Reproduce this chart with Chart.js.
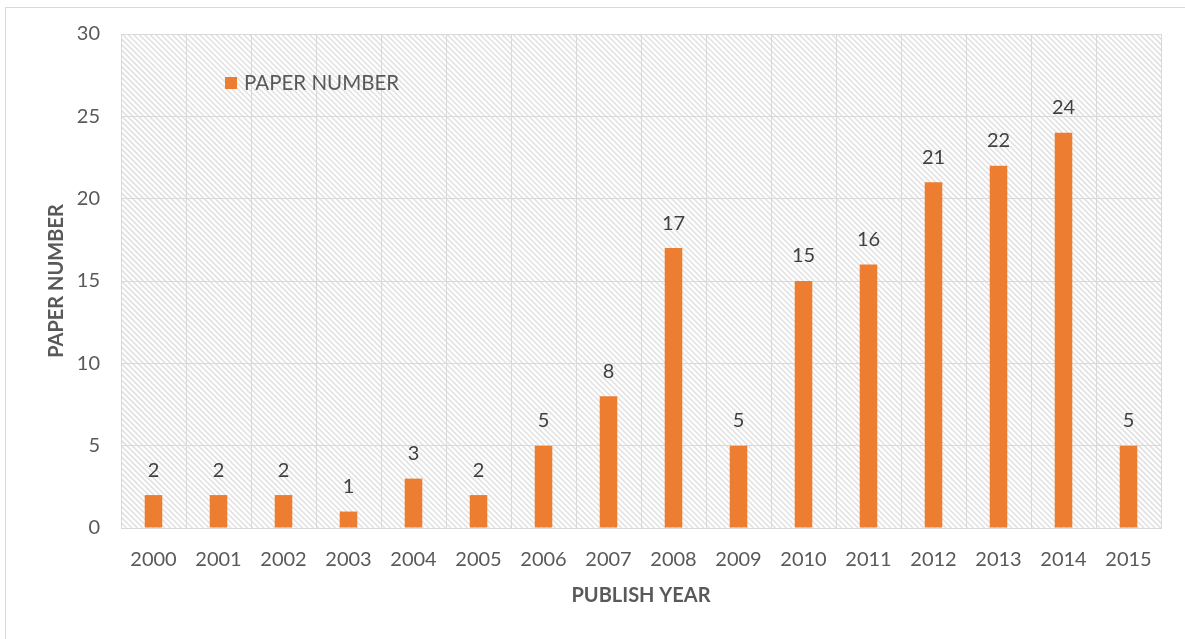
<!DOCTYPE html>
<html>
<head>
<meta charset="utf-8">
<script src="https://cdn.jsdelivr.net/npm/chart.js@4.4.0/dist/chart.umd.min.js"></script>
<style>
  html, body { margin: 0; padding: 0; background: #ffffff; overflow: hidden; }
  #frame { position: absolute; left: 5px; top: 7px; width: 1400px; height: 800px; border: 1px solid #d9d9d9; box-sizing: border-box; }
  #wrap { position: absolute; left: 0; top: 0; width: 1185px; height: 639px; }
</style>
</head>
<body>
<div id="frame"></div>
<div id="wrap"><canvas id="c" width="1185" height="639"></canvas></div>
<script>
const years = ['2000','2001','2002','2003','2004','2005','2006','2007','2008','2009','2010','2011','2012','2013','2014','2015'];
const paperNumbers = [2, 2, 2, 1, 3, 2, 5, 8, 17, 5, 15, 16, 21, 22, 24, 5];
const seriesLabel = 'PAPER NUMBER';
const xTitle = 'PUBLISH YEAR';
const yTitle = 'PAPER NUMBER';
const yMin = 0, yMax = 30, yStep = 5;

const FONT = 'Lato, "Open Sans", "DejaVu Sans", sans-serif';
const BAR = '#ED7D31';
const TXT = '#595959';
const GRID = '#d9d9d9';

const hatchPlugin = {
  id: 'hatch',
  beforeDraw(chart) {
    const { ctx, chartArea: a } = chart;
    ctx.save();
    ctx.beginPath();
    ctx.rect(a.left, a.top, a.right - a.left, a.bottom - a.top);
    ctx.clip();
    ctx.fillStyle = '#ffffff';
    ctx.fillRect(a.left, a.top, a.right - a.left, a.bottom - a.top);
    ctx.strokeStyle = '#e2e2e2';
    ctx.lineWidth = 1.6;
    const h = a.bottom - a.top;
    const step = 5.5;
    for (let x = a.left - h; x < a.right + 10; x += step) {
      ctx.beginPath();
      ctx.moveTo(x, a.top);
      ctx.lineTo(x + h, a.bottom);
      ctx.stroke();
    }
    ctx.restore();
  }
};

const labelPlugin = {
  id: 'barLabels',
  afterDatasetsDraw(chart) {
    const { ctx, chartArea: a } = chart;
    const meta = chart.getDatasetMeta(0);
    const data = chart.data.datasets[0].data;
    ctx.save();
    ctx.font = '20px ' + FONT;
    ctx.fillStyle = '#404040';
    ctx.textAlign = 'center';
    ctx.textBaseline = 'middle';
    meta.data.forEach((bar, i) => {
      ctx.fillText(String(data[i]), bar.x, bar.y - 25);
    });
    // legend inside plot
    const ds = chart.data.datasets[0];
    const lx = a.left + 104, ly = a.top + 49;
    ctx.fillStyle = ds.backgroundColor;
    ctx.fillRect(lx, ly - 6, 12, 12);
    ctx.fillStyle = TXT;
    ctx.textAlign = 'left';
    ctx.font = '20.5px ' + FONT;
    ctx.fillText(ds.label, lx + 19, ly);
    ctx.restore();
  }
};

new Chart(document.getElementById('c'), {
  type: 'bar',
  data: {
    labels: years,
    datasets: [{
      label: seriesLabel,
      data: paperNumbers,
      backgroundColor: BAR,
      borderWidth: 0,
      barPercentage: 0.27,
      categoryPercentage: 1.0
    }]
  },
  options: {
    responsive: false,
    animation: false,
    devicePixelRatio: 1,
    layout: { padding: { top: 34, right: 24, left: 0, bottom: 0 } },
    plugins: {
      legend: { display: false },
      tooltip: { enabled: false }
    },
    scales: {
      x: {
        afterFit(scale) { scale.height = 111; },
        grid: { color: GRID, lineWidth: 1, drawTicks: false, offset: true },
        border: { display: true, color: GRID, width: 1 },
        ticks: { color: TXT, font: { family: FONT, size: 20 }, padding: 20, maxRotation: 0, autoSkip: false },
        title: { display: true, text: xTitle, color: TXT, font: { family: FONT, size: 20, weight: 'bold' }, padding: { top: 0, bottom: 31 } }
      },
      y: {
        min: yMin, max: yMax,
        afterFit(scale) { scale.width = 121; },
        grid: { color: GRID, lineWidth: 1, drawTicks: false },
        border: { display: true, color: GRID, width: 1 },
        ticks: { stepSize: yStep, color: TXT, font: { family: FONT, size: 20 }, padding: 21 },
        title: { display: true, text: yTitle, color: TXT, font: { family: FONT, size: 20, weight: 'bold' }, padding: { top: 45, bottom: 0 } }
      }
    }
  },
  plugins: [hatchPlugin, labelPlugin]
});
</script>
</body>
</html>
